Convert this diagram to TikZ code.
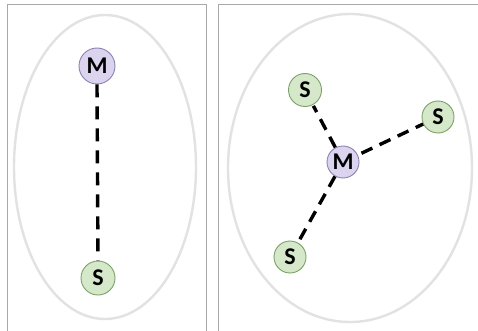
\documentclass[tikz,border=0pt]{standalone}
\usepackage{fontspec}
\setmainfont{Carlito}
\definecolor{mfill}{HTML}{DCD4EF}
\definecolor{mline}{HTML}{8A82B0}
\definecolor{sfill}{HTML}{D5E8C9}
\definecolor{sline}{HTML}{7BA068}
\definecolor{ringc}{HTML}{E2E2E2}
\definecolor{framec}{HTML}{A8A8A8}
\tikzset{
  master/.style={circle, draw=mline, fill=mfill, line width=0.9pt, minimum size=36pt, inner sep=0pt, font=\fontsize{24}{24}\selectfont\bfseries},
  slave/.style={circle, draw=sline, fill=sfill, line width=0.9pt, minimum size=34pt, inner sep=0pt, font=\fontsize{24}{24}\selectfont\bfseries},
  link/.style={line width=3.4pt, dash pattern=on 13pt off 9pt},
  ring/.style={draw=ringc, line width=2.4pt},
  frame/.style={draw=framec, line width=0.8pt}
}
\begin{document}
\begin{tikzpicture}[x=1pt,y=-1pt]
\useasboundingbox (0,0) rectangle (478,331);
\fill[white] (0,0) rectangle (478,331);
% panel frames
\draw[frame] (7,335) -- (7,4) -- (206,4) -- (206,335);
\draw[frame] (218,335) -- (218,4) -- (482,4);
% left: one master, one slave
\draw[ring] (105,167) ellipse [x radius=91, y radius=152];
\node[master] (m1) at (97,66) {M};
\node[slave] (s1) at (98,278) {S};
\draw[link] (m1.south) -- (s1.north);
% right: one master, three slaves
\draw[ring] (350,168) ellipse [x radius=122, y radius=154];
\node[master, minimum size=32pt] (m2) at (343,162) {M};
\node[slave, minimum size=33pt] (s2) at (305,90) {S};
\node[slave, minimum size=32pt] (s3) at (438,117) {S};
\node[slave, minimum size=32pt] (s4) at (290,257) {S};
\draw[link, dash pattern=on 12pt off 8pt, shorten >=1pt] (m2) -- (s2);
\draw[link, dash pattern=on 12pt off 8pt, shorten <=4pt] (m2) -- (s3);
\draw[link, dash pattern=on 12pt off 8pt, shorten >=3pt] (m2) -- (s4);
\end{tikzpicture}
\end{document}
